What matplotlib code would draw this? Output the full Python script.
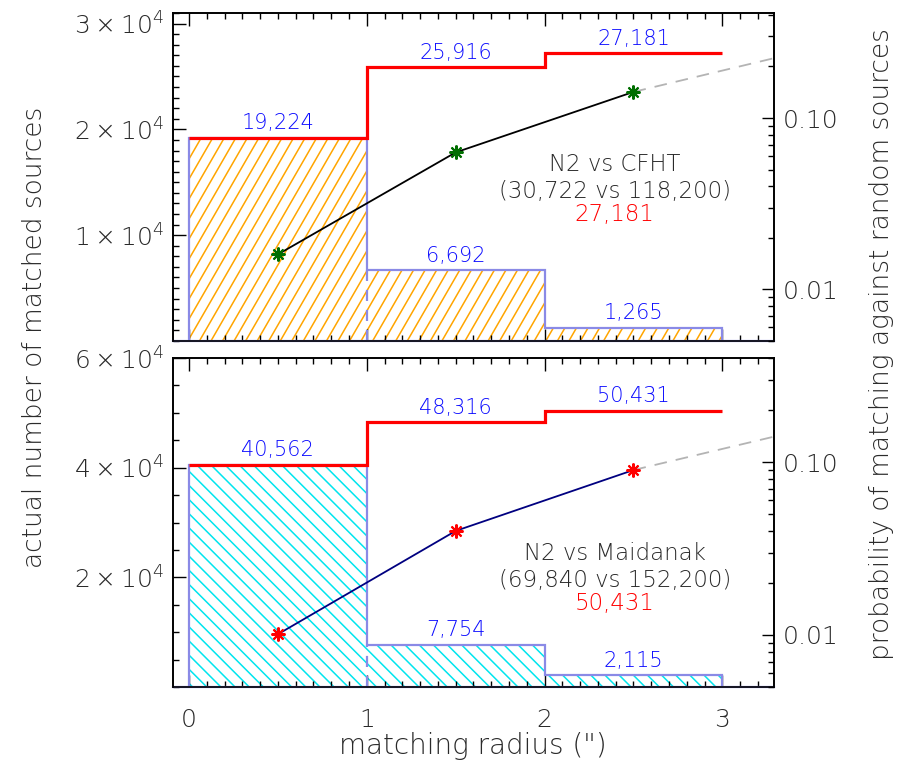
import numpy as np
import matplotlib
matplotlib.use('Agg')
import matplotlib.pyplot as plt
from matplotlib.collections import LineCollection
from matplotlib.transforms import IdentityTransform
from matplotlib.ticker import FixedLocator, MultipleLocator, LogLocator, NullFormatter, FixedFormatter

# datos (bins de radio en arcsec)
edges = [0, 1, 2, 3]
mids = [0.5, 1.5, 2.5]
ext_x = [2.5, 3.5]

cfht_n = [19224, 6692, 1265]
cfht_cum = [19224, 25916, 27181]
cfht_p = [0.016, 0.063, 0.142]
cfht_p_ext = [0.142, 0.252]
cfht_lbl = ['N2 vs CFHT', '(30,722 vs 118,200)', '27,181']

maid_n = [40562, 7754, 2115]
maid_cum = [40562, 48316, 50431]
maid_p = [0.0101, 0.040, 0.090]
maid_p_ext = [0.090, 0.158]
maid_lbl = ['N2 vs Maidanak', '(69,840 vs 152,200)', '50,431']

top_ticks = [1e4, 2e4, 3e4]
top_tick_lbl = [r'$1\times10^4$', r'$2\times10^4$', r'$3\times10^4$']
bot_ticks = [2e4, 4e4, 6e4]
bot_tick_lbl = [r'$2\times10^4$', r'$4\times10^4$', r'$6\times10^4$']
p_ticks = [0.01, 0.1]
p_tick_lbl = ['0.01', '0.10']
x_ticks = [0, 1, 2, 3]

EDGE = '#8a8ae6'
BLUE = '#0a0aff'
TXT = '#2a2a2a'

plt.rcParams['font.family'] = 'DejaVu Sans'
plt.rcParams['font.weight'] = 'light'
plt.rcParams['mathtext.fontset'] = 'custom'
plt.rcParams['mathtext.rm'] = 'DejaVu Sans:light'
plt.rcParams['mathtext.it'] = 'DejaVu Sans:light'

fig = plt.figure(figsize=(8.99, 7.69), dpi=100)


def rayado(ax, bars, color, ang, sep):
    # lineas de sombreado en pixeles, recortadas a cada barra
    bb = ax.get_window_extent()
    th = np.deg2rad(ang)
    d = np.array([np.cos(th), np.sin(th)])
    nv = np.array([-np.sin(th), np.cos(th)])
    c0 = np.array([bb.x0 + bb.width / 2, bb.y0 + bb.height / 2])
    R = np.hypot(bb.width, bb.height)
    segs = [[c0 + k * nv - R * d, c0 + k * nv + R * d] for k in np.arange(-R, R, sep)]
    for b in bars:
        lc = LineCollection(segs, colors=color, linewidths=1.1, transform=IdentityTransform(), zorder=1)
        ax.add_collection(lc, autolim=False)
        lc.set_clip_path(b)


def panel(rect, n, cum, p, p_ext, hcol, ang, lcol, mcol, lbl, lbl_y, ymax, yt, ytl, ymin_step, plim, xlabels):
    ax = fig.add_axes(rect)
    ax.set_xlim(-0.09, 3.29)
    ax.set_ylim(0, ymax)
    bars = ax.bar(edges[:-1], n, width=1, align='edge', color='none', edgecolor='none')
    rayado(ax, bars, hcol, ang, 10)
    ax.stairs(n, edges, baseline=0, color=EDGE, lw=1.6, zorder=2)
    ax.axhline(0, color=EDGE, lw=1.6, zorder=3, clip_on=False)
    ax.vlines(edges[1], 0, n[1], colors=EDGE, linestyles=(0, (5, 4)), lw=1.6, zorder=2)
    ax.stairs(cum, edges, baseline=None, color='red', lw=2.3, zorder=4)
    for i in range(3):
        ax.annotate(f'{cum[i]:,}', (mids[i], cum[i]), xytext=(0, 3), textcoords='offset points',
                    ha='center', va='bottom', color=BLUE, fontsize=15)
        if i > 0:
            ax.annotate(f'{n[i]:,}', (mids[i], n[i]), xytext=(0, 3), textcoords='offset points',
                        ha='center', va='bottom', color=BLUE, fontsize=15)
    for t, yy, col in zip(lbl, lbl_y, [TXT, TXT, 'red']):
        ax.text(0.735, yy, t, transform=ax.transAxes, ha='center', va='center', color=col, fontsize=16.5)

    ax.yaxis.set_major_locator(FixedLocator(yt))
    ax.yaxis.set_major_formatter(FixedFormatter(ytl))
    ax.yaxis.set_minor_locator(MultipleLocator(ymin_step))
    ax.xaxis.set_major_locator(FixedLocator(x_ticks))
    ax.xaxis.set_minor_locator(MultipleLocator(0.1))
    ax.tick_params(which='both', direction='in', top=True, right=False, width=1.0, colors='black',
                   labelcolor=TXT, labelsize=18)
    ax.tick_params(which='major', length=9)
    ax.tick_params(which='minor', length=4.5)
    ax.tick_params(axis='y', pad=6)
    ax.tick_params(axis='x', pad=15, labelbottom=xlabels)
    for s in ax.spines.values():
        s.set_linewidth(1.2)

    ax2 = ax.twinx()
    ax2.set_yscale('log')
    ax2.set_ylim(*plim)
    ax2.plot(mids, p, color=lcol, lw=1.3, zorder=3)
    ax2.plot(ext_x, p_ext, color='#b4b4b4', lw=1.3, ls=(0, (7, 5)), zorder=2)
    ax2.plot(mids, p, ls='none', marker=(8, 2, 0), ms=10, mew=1.5, mec=mcol, zorder=4)
    ax2.yaxis.set_major_locator(FixedLocator(p_ticks))
    ax2.yaxis.set_major_formatter(FixedFormatter(p_tick_lbl))
    ax2.yaxis.set_minor_locator(LogLocator(base=10, subs=np.arange(2, 10)))
    ax2.yaxis.set_minor_formatter(NullFormatter())
    ax2.tick_params(which='both', direction='in', width=1.0, labelcolor=TXT, labelsize=18, pad=6)
    ax2.tick_params(which='major', length=9)
    ax2.tick_params(which='minor', length=4.5)
    for s in ax2.spines.values():
        s.set_linewidth(1.2)
    return ax


panel([0.1924, 0.5566, 0.6685, 0.4265], cfht_n, cfht_cum, cfht_p, cfht_p_ext, 'orange', 60,
      'black', '#006e00', cfht_lbl, [0.537, 0.457, 0.387], 31000, top_ticks, top_tick_lbl, 1000,
      (0.005, 0.41), False)
panel([0.1924, 0.1066, 0.6685, 0.4278], maid_n, maid_cum, maid_p, maid_p_ext, '#00e5ee', 135,
      '#000080', 'red', maid_lbl, [0.407, 0.325, 0.255], 60000, bot_ticks, bot_tick_lbl, 5000,
      (0.005, 0.40), True)

fig.text(35 / 899, 1 - 337 / 769, 'actual number of matched sources', rotation=90,
         ha='center', va='center', fontsize=19, color=TXT)
fig.text(882 / 899, 1 - 344 / 769, 'probability of matching against random sources', rotation=90,
         ha='center', va='center', fontsize=19, color=TXT)
fig.text(473 / 899, 1 - 746 / 769, 'matching radius (")', ha='center', va='center',
         fontsize=20, color=TXT)

fig.savefig('out.png', dpi=100)
